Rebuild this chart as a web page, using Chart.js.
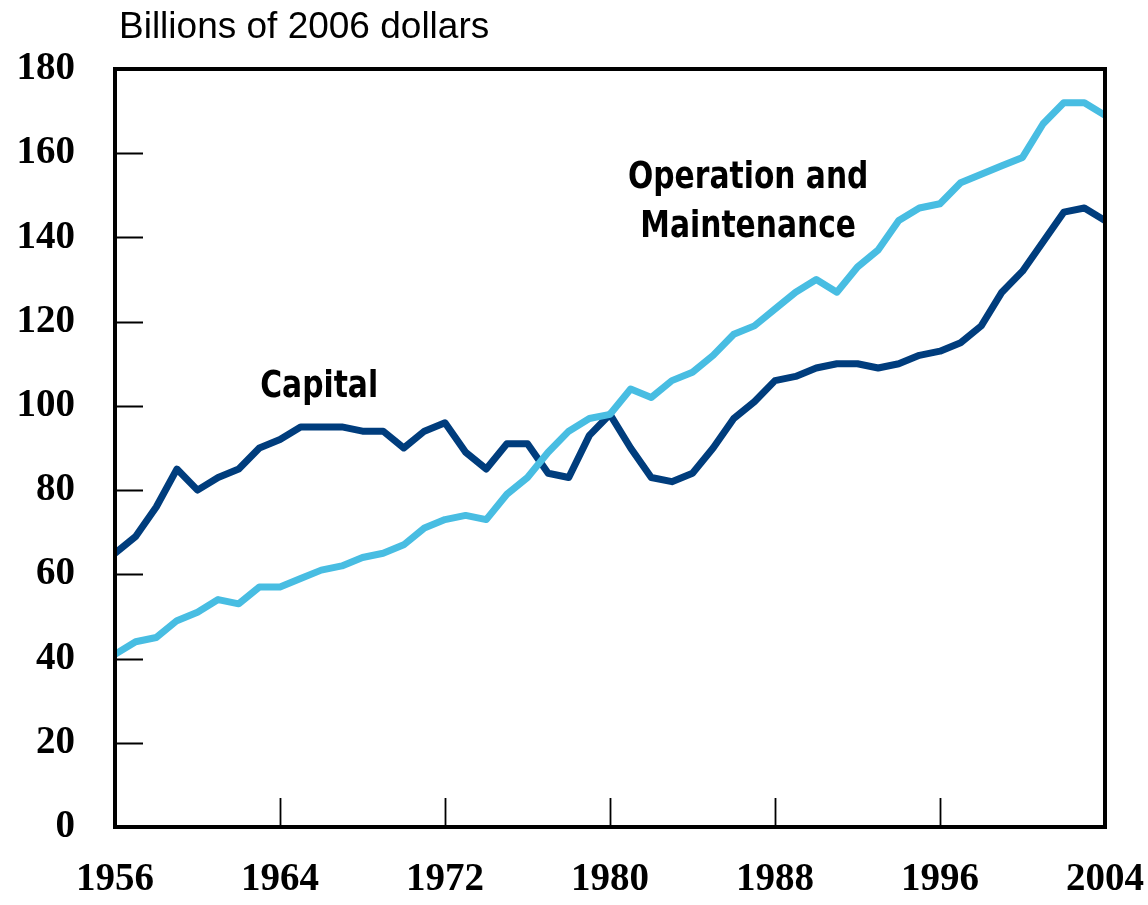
<!DOCTYPE html>
<html>
<head>
<meta charset="utf-8">
<script src="https://cdn.jsdelivr.net/npm/chart.js@4"></script>
<style>
  html, body { margin: 0; padding: 0; background: #fff; }
  #wrap { width: 1148px; height: 905px; }
</style>
</head>
<body>
<div id="wrap"><canvas id="chart" width="1148" height="905"></canvas></div>
<script>
"use strict";

// Data (billions of 2006 dollars)
const years = [];
for (let y = 1956; y <= 2004; y++) years.push(y);

const capital = [
  65, 69, 76, 85, 80, 83, 85, 90, 92, 95,
  95, 95, 94, 94, 90, 94, 96, 89, 85, 91,
  91, 84, 83, 93, 98, 90, 83, 82, 84, 90,
  97, 101, 106, 107, 109, 110, 110, 109, 110, 112,
  113, 115, 119, 127, 132, 139, 146, 147, 144
];

const operation = [
  41, 44, 45, 49, 51, 54, 53, 57, 57, 59,
  61, 62, 64, 65, 67, 71, 73, 74, 73, 79,
  83, 89, 94, 97, 98, 104, 102, 106, 108, 112,
  117, 119, 123, 127, 130, 127, 133, 137, 144, 147,
  148, 153, 155, 157, 159, 167, 172, 172, 169
];

const xTicks = [1956, 1964, 1972, 1980, 1988, 1996, 2004];
const yTicks = [0, 20, 40, 60, 80, 100, 120, 140, 160, 180];

const unitLabel = "Billions of 2006 dollars";
const seriesLabels = [
  { lines: ["Capital"], x: 1965.9, y: 102 },
  { lines: ["Operation and", "Maintenance"], x: 1986.7, y: 151.7 }
];

const toPoints = (vals) => vals.map((v, i) => ({ x: years[i], y: v }));

const tickFont = { family: "'Liberation Serif', 'Times New Roman', serif", size: 39, weight: "bold" };

// frame, inward tick marks, unit label and series labels
const decorations = {
  id: "decorations",
  afterDatasetsDraw(chart) {
    const { ctx, chartArea: a, scales } = chart;
    const xs = scales.x, ys = scales.y;
    ctx.save();
    ctx.strokeStyle = "#000";
    ctx.lineWidth = 1.8;
    ctx.beginPath();
    yTicks.slice(1, -1).forEach((t) => {
      const py = Math.round(ys.getPixelForValue(t)) + 0.5;
      ctx.moveTo(a.left, py);
      ctx.lineTo(a.left + 28, py);
    });
    xTicks.slice(1, -1).forEach((t) => {
      const px = Math.round(xs.getPixelForValue(t)) + 0.5;
      ctx.moveTo(px, a.bottom);
      ctx.lineTo(px, a.bottom - 29);
    });
    ctx.stroke();

    ctx.lineWidth = 4;
    ctx.lineJoin = "miter";
    ctx.strokeRect(a.left, a.top, a.right - a.left, a.bottom - a.top);

    ctx.fillStyle = "#000";
    ctx.font = "37px 'Liberation Sans', Arial, sans-serif";
    ctx.textAlign = "left";
    ctx.textBaseline = "alphabetic";
    ctx.fillText(unitLabel, 119, 38);

    // condensed bold labels: squeeze a normal bold face horizontally
    ctx.font = "bold 38px 'DejaVu Sans Condensed', 'DejaVu Sans', sans-serif";
    ctx.textAlign = "center";
    seriesLabels.forEach((lab) => {
      const px = xs.getPixelForValue(lab.x);
      const py = ys.getPixelForValue(lab.y);
      lab.lines.forEach((s, i) => {
        ctx.save();
        ctx.translate(px, py + i * 49);
        ctx.scale(0.87, 1);
        ctx.fillText(s, 0, 0);
        ctx.restore();
      });
    });
    ctx.restore();
  }
};

new Chart(document.getElementById("chart").getContext("2d"), {
  type: "line",
  data: {
    datasets: [
      {
        label: "Operation and Maintenance",
        data: toPoints(operation),
        borderColor: "#48bde2",
        borderWidth: 7,
        pointRadius: 0,
        tension: 0,
        borderJoinStyle: "round",
        borderCapStyle: "round",
        order: 0
      },
      {
        label: "Capital",
        data: toPoints(capital),
        borderColor: "#003d7d",
        borderWidth: 7,
        pointRadius: 0,
        tension: 0,
        borderJoinStyle: "round",
        borderCapStyle: "round",
        order: 1
      }
    ]
  },
  options: {
    responsive: false,
    animation: false,
    layout: { padding: { top: 69, right: 43, left: 0, bottom: 0 } },
    plugins: {
      legend: { display: false },
      tooltip: { enabled: false }
    },
    scales: {
      x: {
        type: "linear",
        min: 1956,
        max: 2004,
        afterBuildTicks: (s) => { s.ticks = xTicks.map((v) => ({ value: v })); },
        afterFit: (s) => {
          s.height = 78;
          s.paddingLeft = 0;
          s.paddingRight = 0;
        },
        ticks: {
          color: "#000",
          font: tickFont,
          padding: 30,
          maxRotation: 0,
          callback: (v) => String(v)
        },
        grid: { display: false, drawTicks: false },
        border: { display: false }
      },
      y: {
        min: 0,
        max: 180,
        afterBuildTicks: (s) => { s.ticks = yTicks.map((v) => ({ value: v })); },
        afterFit: (s) => {
          s.width = 115;
          s.paddingTop = 0;
          s.paddingBottom = 0;
        },
        ticks: {
          color: "#000",
          font: tickFont,
          padding: 40
        },
        grid: { display: false, drawTicks: false },
        border: { display: false }
      }
    }
  },
  plugins: [decorations]
});
</script>
</body>
</html>
